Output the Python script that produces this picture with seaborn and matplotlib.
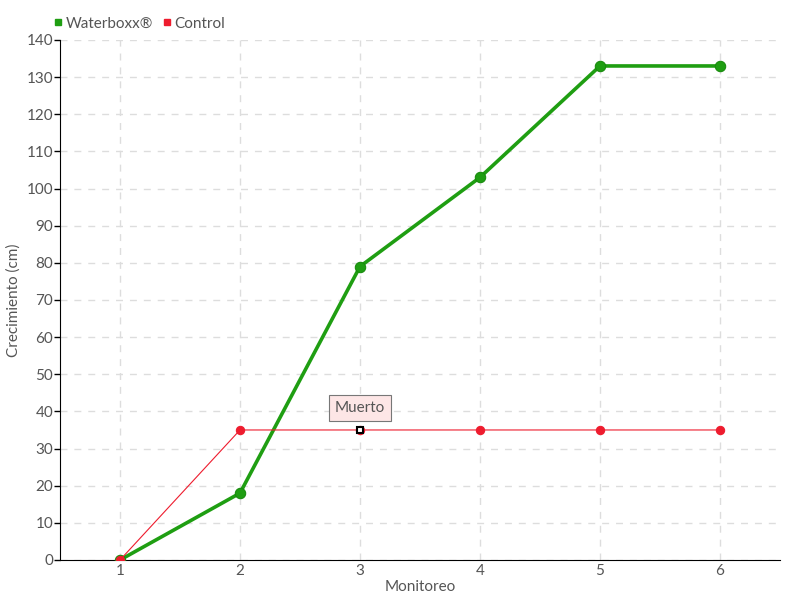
import matplotlib
matplotlib.use("Agg")
import matplotlib.pyplot as plt
import seaborn as sns
import pandas as pd

# data
monitoreo = [1, 2, 3, 4, 5, 6]
waterboxx = [0, 18, 79, 103, 133, 133]
control = [0, 35, 35, 35, 35, 35]
muerto_idx = 2  # control point labelled "Muerto"

GREEN = "#1f9e12"
RED = "#ee1c2e"
TXT = "#555555"

sns.set_style("white")
plt.rcParams["font.family"] = ["Lato", "DejaVu Sans"]

df = pd.DataFrame({"Monitoreo": monitoreo, "Waterboxx": waterboxx, "Control": control})

fig = plt.figure(figsize=(8, 6), dpi=100)
ax = fig.add_axes([0.075, 0.0667, 0.9, 0.8667])

sns.lineplot(data=df, x="Monitoreo", y="Waterboxx", ax=ax, color=GREEN, lw=2.6,
             marker="o", markersize=7.5, markeredgecolor="#178a0c", zorder=3)
sns.lineplot(data=df, x="Monitoreo", y="Control", ax=ax, color=RED, lw=0.8,
             marker="o", markersize=6, markeredgecolor=RED, zorder=4)

# dead plant marker
ax.plot(monitoreo[muerto_idx], control[muerto_idx], "s", ms=4.5, mfc="white",
        mec="black", mew=1.5, zorder=5)
ax.annotate("Muerto", (monitoreo[muerto_idx], control[muerto_idx]),
            xytext=(0, 16), textcoords="offset points", ha="center", va="center",
            fontsize=11, color=TXT,
            bbox=dict(boxstyle="square,pad=0.4", fc="#fde6e6", ec="#777777", lw=0.8),
            zorder=6)

ax.set_xlim(0.5, 6.5)
ax.set_ylim(0, 140)
ax.set_xticks(monitoreo)
ax.set_yticks(range(0, 141, 10))
ax.grid(True, color="#dddddd", linestyle=(0, (5, 5)), lw=1)
for s in ["top", "right"]:
    ax.spines[s].set_visible(False)
ax.spines["left"].set_color("black")
ax.spines["bottom"].set_color("black")
ax.tick_params(axis="y", length=4, width=1, pad=1, direction="out",
               labelsize=11, labelcolor=TXT, color="black", left=True)
ax.tick_params(axis="x", length=0, pad=3, labelsize=11, labelcolor=TXT, bottom=True)
ax.set_xlabel("Monitoreo", fontsize=11, color=TXT, labelpad=1)
ax.set_ylabel("Crecimiento (cm)", fontsize=11, color=TXT, labelpad=4)

# legend at top left
h = [plt.Line2D([], [], ls="none", marker="s", ms=4.5, color=GREEN),
     plt.Line2D([], [], ls="none", marker="s", ms=4.5, color=RED)]
fig.legend(h, ["Waterboxx®", "Control"], loc="upper left", bbox_to_anchor=(0.05, 0.995),
           ncol=2, frameon=False, fontsize=11, handlelength=0.6, handletextpad=0.2,
           columnspacing=0.6, labelcolor=TXT)

fig.savefig("out.png", dpi=100)
